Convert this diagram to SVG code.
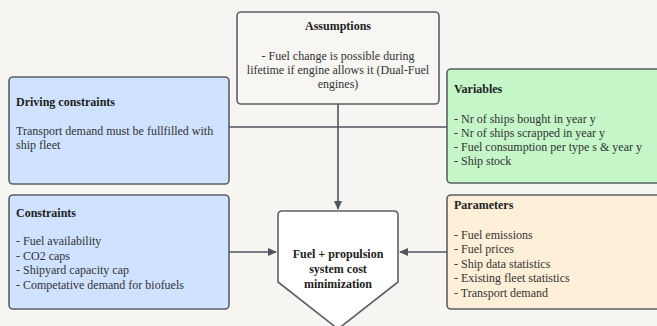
<svg xmlns="http://www.w3.org/2000/svg" width="657" height="326" viewBox="0 0 657 326">
<style>
.bg{fill:#f6f5f1}
.box{stroke:#5a6068;stroke-width:1.6}
.blue{fill:#cfe2ff}
.green{fill:#c4f6c8}
.cream{fill:#fef0d8}
.plain{fill:#f7f6f2}
.white{fill:#ffffff}
text{font-family:"Liberation Serif","Times New Roman",serif;font-size:12px;fill:#333}
.b{font-weight:bold;fill:#222}
.c{text-anchor:middle}
.conn{stroke:#4f5660;stroke-width:1.6;fill:none}
</style>
<defs>
<marker id="arr" markerWidth="10" markerHeight="10" refX="8" refY="5" orient="auto" markerUnits="userSpaceOnUse">
<path d="M0,1 L9,5 L0,9 Z" fill="#4f5660"/>
</marker>
</defs>
<rect class="bg" x="0" y="0" width="657" height="326"/>
<g id="connectors">
<path class="conn" d="M338,104 L338,209" marker-end="url(#arr)"/>
<path class="conn" d="M229,127 L447,127"/>
<path class="conn" d="M229,252 L276,252" marker-end="url(#arr)"/>
<path class="conn" d="M447,252 L400,252" marker-end="url(#arr)"/>
</g>
<g id="assumptions">
<rect class="box plain" x="237" y="12" width="202" height="92" rx="4"/>
<text class="b c" x="338" y="30">Assumptions</text>
<text class="c" x="338" y="60">- Fuel change is possible during</text>
<text class="c" x="338" y="74">lifetime if engine allows it (Dual-Fuel</text>
<text class="c" x="338" y="88">engines)</text>
</g>
<g id="driving">
<rect class="box blue" x="9" y="77" width="220" height="107" rx="4"/>
<text class="b" x="16" y="106">Driving constraints</text>
<text x="16" y="135">Transport demand must be fullfilled with</text>
<text x="16" y="149">ship fleet</text>
</g>
<g id="variables">
<rect class="box green" x="447" y="69" width="220" height="114" rx="4"/>
<text class="b" x="454" y="93">Variables</text>
<text x="454" y="123">- Nr of ships bought in year y</text>
<text x="454" y="137">- Nr of ships scrapped in year y</text>
<text x="454" y="151">- Fuel consumption per type s &amp; year y</text>
<text x="454" y="165">- Ship stock</text>
</g>
<g id="constraints">
<rect class="box blue" x="9" y="195" width="220" height="114" rx="4"/>
<text class="b" x="16" y="217">Constraints</text>
<text x="16" y="245">- Fuel availability</text>
<text x="16" y="260">- CO2 caps</text>
<text x="16" y="274">- Shipyard capacity cap</text>
<text x="16" y="289">- Competative demand for biofuels</text>
</g>
<g id="parameters">
<rect class="box cream" x="447" y="195" width="220" height="114" rx="4"/>
<text class="b" x="454" y="209">Parameters</text>
<text x="454" y="239">- Fuel emissions</text>
<text x="454" y="253">- Fuel prices</text>
<text x="454" y="268">- Ship data statistics</text>
<text x="454" y="282">- Existing fleet statistics</text>
<text x="454" y="297">- Transport demand</text>
</g>
<g id="objective">
<path class="box white" d="M282,211 L394,211 Q398,211 398,215 L398,282 L338,329 L278,282 L278,215 Q278,211 282,211 Z"/>
<text class="b c" x="338" y="258">Fuel + propulsion</text>
<text class="b c" x="338" y="273">system cost</text>
<text class="b c" x="338" y="288">minimization</text>
</g>
</svg>
